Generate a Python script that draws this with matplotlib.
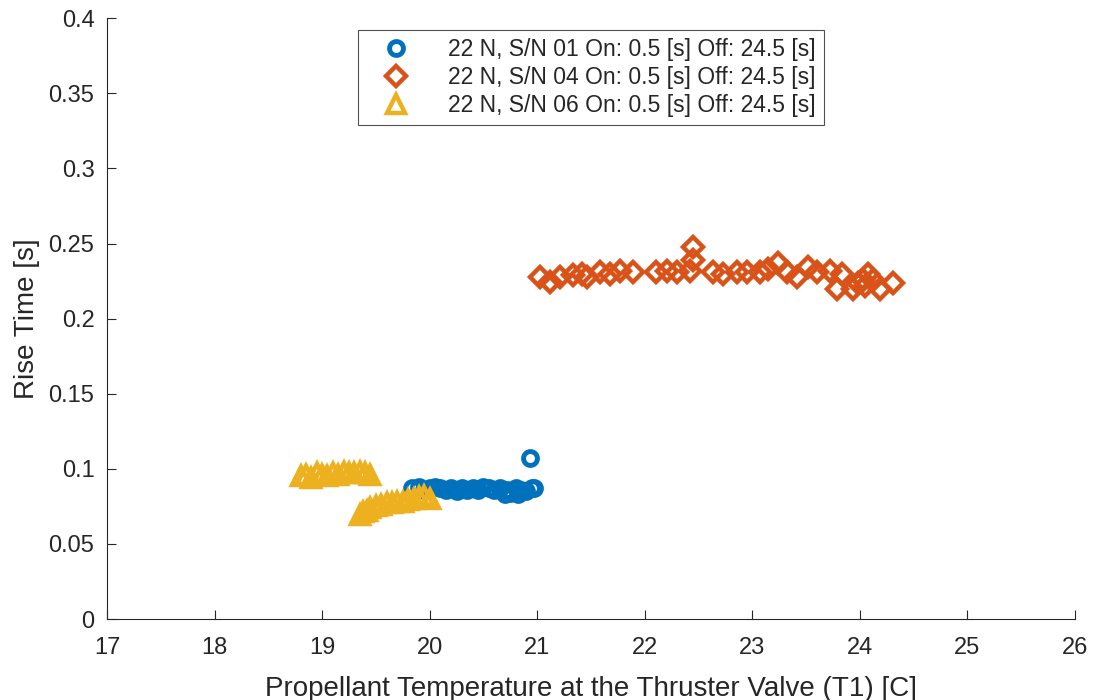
import numpy as np
import matplotlib.pyplot as plt

plt.rcParams['font.family'] = ['Liberation Sans', 'DejaVu Sans']

# S/N 01 - circles
sn01_temp = [19.84, 19.90, 19.95, 20.00, 20.05, 20.10, 20.15, 20.20, 20.25, 20.30,
             20.35, 20.40, 20.45, 20.50, 20.55, 20.60, 20.65, 20.70, 20.72, 20.75,
             20.80, 20.82, 20.85, 20.90, 20.93, 20.95, 20.97]
sn01_rise = [0.087, 0.088, 0.086, 0.087, 0.088, 0.087, 0.086, 0.087, 0.085, 0.087,
             0.086, 0.087, 0.086, 0.088, 0.087, 0.086, 0.087, 0.083, 0.086, 0.084,
             0.087, 0.083, 0.086, 0.085, 0.107, 0.087, 0.087]

# S/N 04 - diamonds
sn04_temp = [21.03, 21.12, 21.21, 21.33, 21.42, 21.46, 21.58, 21.68, 21.77, 21.89,
             22.10, 22.21, 22.30, 22.42, 22.45, 22.45, 22.63, 22.73, 22.86, 22.95,
             23.07, 23.15, 23.24, 23.32, 23.42, 23.52, 23.60, 23.72, 23.79, 23.83,
             23.94, 24.03, 24.08, 24.12, 24.19, 24.31, 23.98, 24.05]
sn04_rise = [0.228, 0.2245, 0.228, 0.229, 0.230, 0.228, 0.231, 0.230, 0.232, 0.231,
             0.231, 0.232, 0.231, 0.232, 0.2475, 0.239, 0.231, 0.230, 0.231, 0.231,
             0.231, 0.233, 0.237, 0.231, 0.228, 0.2345, 0.231, 0.232, 0.220, 0.230,
             0.220, 0.2255, 0.230, 0.226, 0.220, 0.2235, 0.224, 0.222]

# S/N 06 - triangles
sn06_temp = [18.80, 18.85, 18.90, 18.95, 19.00, 19.05, 19.10, 19.15, 19.20, 19.25,
             19.30, 19.35, 19.40, 19.45,
             19.35, 19.38, 19.42, 19.45, 19.50, 19.55, 19.60, 19.65, 19.70, 19.75,
             19.80, 19.85, 19.90, 19.95, 20.00]
sn06_rise = [0.095, 0.096, 0.094, 0.097, 0.096, 0.095, 0.097, 0.096, 0.098, 0.097,
             0.097, 0.098, 0.097, 0.096,
             0.069, 0.071, 0.072, 0.074, 0.075, 0.076, 0.077, 0.077, 0.078, 0.078,
             0.079, 0.080, 0.081, 0.082, 0.080]

labels = ['22 N, S/N 01 On: 0.5 [s] Off: 24.5 [s]',
          '22 N, S/N 04 On: 0.5 [s] Off: 24.5 [s]',
          '22 N, S/N 06 On: 0.5 [s] Off: 24.5 [s]']

fig = plt.figure(figsize=(10.94, 7.0), dpi=100)
ax = fig.add_axes([0.0978, 0.1157, 0.8848, 0.8583])

ax.plot(sn01_temp, sn01_rise, 'o', ls='none', color='#0072BD', mfc='none',
        ms=10, mew=3.5, label=labels[0])
ax.plot(sn04_temp, sn04_rise, 'D', ls='none', color='#D95319', mfc='none',
        ms=10, mew=3.2, label=labels[1])
ax.plot(sn06_temp, sn06_rise, '^', ls='none', color='#EDB120', mfc='none',
        ms=13, mew=3.2, label=labels[2])

ax.set_xlim(17, 26)
ax.set_ylim(0, 0.4)
ax.set_xticks(np.arange(17, 27, 1))
ax.set_yticks(np.arange(0, 0.41, 0.05))
ax.set_yticklabels(['0', '0.05', '0.1', '0.15', '0.2', '0.25', '0.3', '0.35', '0.4'])

for side in ['top', 'right']:
    ax.spines[side].set_visible(False)
for side in ['left', 'bottom']:
    ax.spines[side].set_color('#262626')
    ax.spines[side].set_linewidth(0.8)
ax.tick_params(direction='in', length=6.5, width=0.8, colors='#262626',
               labelsize=17)
ax.tick_params(axis='x', pad=13)
ax.tick_params(axis='y', pad=9)

ax.set_xlabel('Propellant Temperature at the Thruster Valve (T1) [C]',
              fontsize=20, color='#262626', labelpad=12)
ax.set_ylabel('Rise Time [s]', fontsize=20, color='#262626', labelpad=6)

leg = ax.legend(loc='upper center', bbox_to_anchor=(0.5, 0.98), fontsize=16.5,
                frameon=True, fancybox=False, edgecolor='#262626',
                handletextpad=1.0, borderpad=0.35, labelspacing=0.22,
                handlelength=2.6, borderaxespad=0)
leg.get_frame().set_linewidth(0.8)
for t in leg.get_texts():
    t.set_color('#262626')

fig.savefig('out.png', dpi=100)
